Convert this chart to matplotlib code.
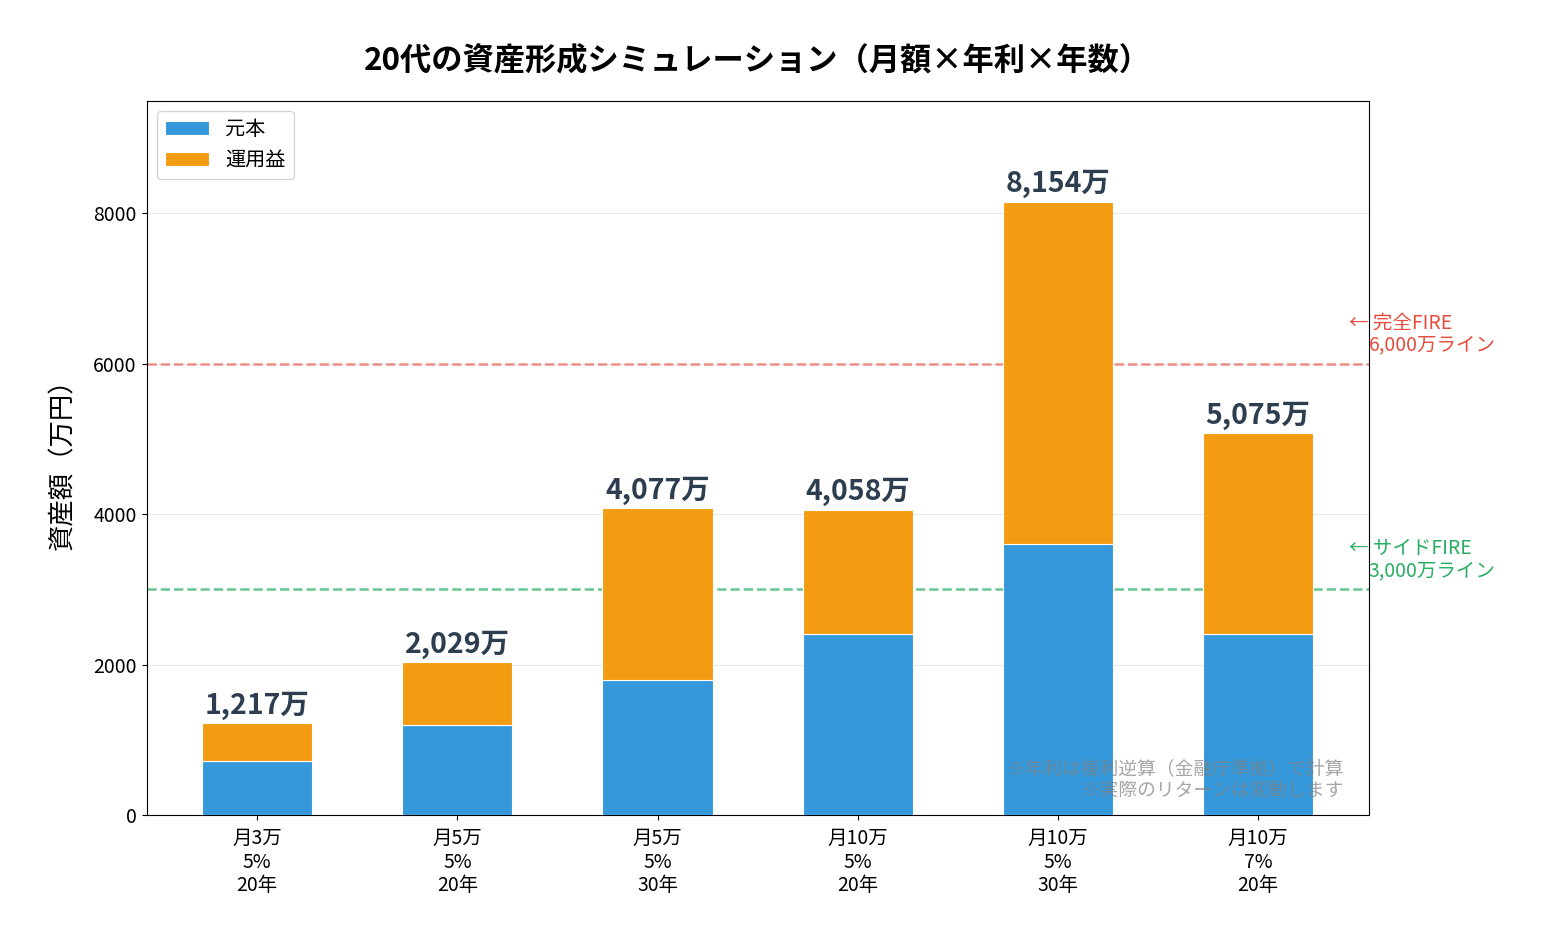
import numpy as np
import matplotlib
matplotlib.use("Agg")
import matplotlib.pyplot as plt

plt.rcParams['font.family'] = ['Noto Sans CJK JP', 'DejaVu Sans']

labels = ["月3万\n5%\n20年", "月5万\n5%\n20年", "月5万\n5%\n30年",
          "月10万\n5%\n20年", "月10万\n5%\n30年", "月10万\n7%\n20年"]
principal = np.array([720, 1200, 1800, 2400, 3600, 2400])
total = np.array([1217, 2029, 4077, 4058, 8154, 5075])
gain = total - principal

fire_full = 6000
fire_side = 3000

fig, ax = plt.subplots(figsize=(15.43, 9.41), dpi=100)
fig.subplots_adjust(left=0.095, right=0.887, top=0.893, bottom=0.134)

x = np.arange(len(labels))
w = 0.55
ax.bar(x, principal, w, color='#3498db', edgecolor='white', linewidth=0.8,
       label='元本', zorder=3)
ax.bar(x, gain, w, bottom=principal, color='#f39c12', edgecolor='white',
       linewidth=0.8, label='運用益', zorder=3)

for xi, t in zip(x, total):
    ax.text(xi, t + 50, f"{t:,}万", ha='center', va='bottom', fontsize=20.5,
            fontweight='bold', color='#2c3e50', zorder=4)

ax.axhline(fire_full, color='#e74c3c', linestyle='--', linewidth=1.8, alpha=0.6, zorder=2)
ax.axhline(fire_side, color='#27ae60', linestyle='--', linewidth=1.8, alpha=0.7, zorder=2)

tr = ax.get_yaxis_transform()
ax.text(0.984, fire_full + 540, "← 完全FIRE", transform=tr, color='#e74c3c',
        fontsize=14, va='center', ha='left', clip_on=False)
ax.text(1.0, fire_full + 250, "6,000万ライン", transform=tr, color='#e74c3c',
        fontsize=14, va='center', ha='left', clip_on=False)
ax.text(0.984, fire_side + 540, "← サイドFIRE", transform=tr, color='#27ae60',
        fontsize=14, va='center', ha='left', clip_on=False)
ax.text(1.0, fire_side + 250, "3,000万ライン", transform=tr, color='#27ae60',
        fontsize=14, va='center', ha='left', clip_on=False)

ax.text(0.98, 0.018, "※年利は複利逆算（金融庁準拠）で計算\n※実際のリターンは変動します",
        transform=ax.transAxes, ha='right', va='bottom', fontsize=13.5,
        color='gray', alpha=0.7, zorder=5, linespacing=1.1)

ax.set_xticks(x)
ax.set_xticklabels(labels, fontsize=14, linespacing=1.15)
ax.tick_params(axis='x', pad=6)
ax.tick_params(axis='y', labelsize=14)
ax.set_ylim(0, 9500)
ax.set_yticks([0, 2000, 4000, 6000, 8000])
ax.set_ylabel("資産額（万円）", fontsize=19, labelpad=12)
ax.set_title("20代の資産形成シミュレーション（月額×年利×年数）", fontsize=22.5,
             fontweight='bold', pad=22)
ax.yaxis.grid(True, alpha=0.3, zorder=0)
ax.set_axisbelow(True)
ax.legend(loc='upper left', fontsize=14.5, handlelength=2.2)

fig.savefig("out.png", dpi=100)
